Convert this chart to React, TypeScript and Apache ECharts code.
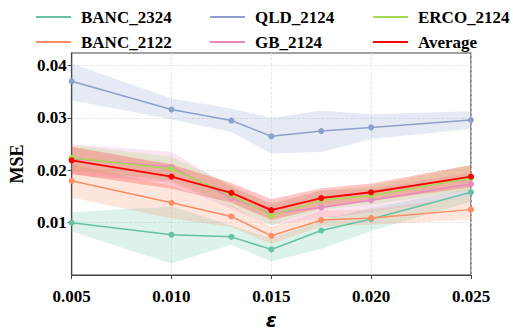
import React, { useEffect, useRef } from "react";
import * as echarts from "echarts";

const eps = [0.005, 0.01, 0.013, 0.015, 0.0175, 0.02, 0.025];
const yTicks = [0.01, 0.02, 0.03, 0.04];

const names = ["BANC_2324", "BANC_2122", "QLD_2124", "GB_2124", "ERCO_2124", "Average"];
const colors = ["#66c2a5", "#fc8d62", "#8da0cb", "#e78ac3", "#a6d854", "#ff0000"];

const banc2324 = [0.01, 0.0077, 0.0073, 0.0049, 0.0085, 0.0107, 0.0158];
const banc2324Lo = [0.0083, 0.0022, 0.0058, 0.0026, 0.005, 0.0084, 0.014];
const banc2324Hi = [0.012, 0.0131, 0.0095, 0.007, 0.0105, 0.0128, 0.0166];

const banc2122 = [0.018, 0.0138, 0.0112, 0.0075, 0.0105, 0.0109, 0.0125];
const banc2122Lo = [0.0148, 0.0108, 0.0092, 0.006, 0.0093, 0.0096, 0.0106];
const banc2122Hi = [0.0212, 0.017, 0.0134, 0.0092, 0.0124, 0.0125, 0.015];

const qld2124 = [0.037, 0.0316, 0.0295, 0.0265, 0.0275, 0.0282, 0.0296];
const qld2124Lo = [0.0334, 0.0297, 0.0273, 0.0232, 0.0235, 0.026, 0.0279];
const qld2124Hi = [0.0404, 0.0337, 0.0318, 0.03, 0.0314, 0.0307, 0.0313];

const gb2124 = [0.0222, 0.0207, 0.0147, 0.0117, 0.0129, 0.0143, 0.0174];
const gb2124Lo = [0.0192, 0.0177, 0.0125, 0.0095, 0.0108, 0.012, 0.015];
const gb2124Hi = [0.025, 0.0235, 0.0168, 0.0137, 0.0162, 0.0165, 0.0196];

const erco2124 = [0.0224, 0.0203, 0.0152, 0.0114, 0.0143, 0.0152, 0.0185];
const erco2124Lo = [0.02, 0.018, 0.0131, 0.0095, 0.0125, 0.0135, 0.0162];
const erco2124Hi = [0.0248, 0.0226, 0.0172, 0.0135, 0.0161, 0.017, 0.021];

const average = [0.0219, 0.0188, 0.0157, 0.0124, 0.0147, 0.0158, 0.0188];
const averageLo = [0.0193, 0.0165, 0.0138, 0.0105, 0.0128, 0.0142, 0.0167];
const averageHi = [0.0245, 0.0211, 0.0176, 0.0145, 0.0166, 0.0175, 0.021];

const means = [banc2324, banc2122, qld2124, gb2124, erco2124, average];
const lows = [banc2324Lo, banc2122Lo, qld2124Lo, gb2124Lo, erco2124Lo, averageLo];
const highs = [banc2324Hi, banc2122Hi, qld2124Hi, gb2124Hi, erco2124Hi, averageHi];

const FONT = "'Liberation Serif', 'Times New Roman', serif";

export default function App() {
  const ref = useRef<HTMLDivElement>(null);
  useEffect(() => {
    if (!ref.current) return;
    const chart = echarts.init(ref.current, null, { renderer: "svg" });

    const bandSeries = names.map((n, k) => ({
      type: "custom",
      silent: true,
      z: 1,
      clip: true,
      data: [[eps[0], lows[k][0]]],
      encode: { x: 0, y: 1 },
      renderItem: (params: any, api: any) => {
        const pts: number[][] = [];
        for (let i = 0; i < eps.length; i++) pts.push(api.coord([eps[i], highs[k][i]]));
        for (let i = eps.length - 1; i >= 0; i--) pts.push(api.coord([eps[i], lows[k][i]]));
        return {
          type: "polygon",
          shape: { points: pts },
          style: { fill: colors[k], opacity: 0.22 },
        };
      },
    }));

    const lineSeries = names.map((n, k) => ({
      type: "line",
      name: n,
      z: 3 + k,
      data: eps.map((x, i) => [x, means[k][i]]),
      symbol: "circle",
      symbolSize: 6,
      color: colors[k],
      lineStyle: { width: k === 5 ? 2 : 1.5, color: colors[k] },
      itemStyle: { color: colors[k] },
    }));

    const legendBase = {
      orient: "vertical",
      top: 2,
      itemWidth: 35,
      itemHeight: 2,
      itemGap: 5,
      icon: "rect",
      textStyle: {
        fontFamily: FONT,
        fontWeight: "bold",
        fontSize: 17,
        color: "#000",
        lineHeight: 20,
        padding: [0, 0, 0, 5],
      },
    };

    chart.setOption({
      animation: false,
      grid: {
        left: 71,
        right: 42,
        top: 53,
        bottom: 42,
        show: true,
        borderColor: "#444",
        borderWidth: 1.2,
        backgroundColor: "transparent",
      },
      legend: [
        { ...legendBase, left: 31, data: [names[0], names[1]] },
        { ...legendBase, left: 205, data: [names[2], names[3]] },
        { ...legendBase, left: 368, data: [names[4], names[5]] },
      ],
      xAxis: {
        type: "value",
        min: 0.005,
        max: 0.025,
        interval: 0.005,
        name: "ε",
        nameLocation: "middle",
        nameGap: 21,
        nameTextStyle: {
          fontFamily: "DejaVu Sans",
          fontStyle: "italic",
          fontWeight: "bold",
          fontSize: 20,
          color: "#000",
        },
        axisLine: { show: true, lineStyle: { color: "#444", width: 1.2 } },
        axisTick: { show: true, length: 4, lineStyle: { color: "#444" } },
        axisLabel: {
          margin: 13,
          fontFamily: FONT,
          fontWeight: "bold",
          fontSize: 17,
          color: "#000",
          formatter: (v: number) => v.toFixed(3),
        },
        splitLine: { show: true, lineStyle: { type: "dashed", color: "#e3e3e3", width: 0.8 } },
      },
      yAxis: {
        type: "value",
        min: 0,
        max: 0.0424,
        interval: 0.01,
        name: "MSE",
        nameLocation: "middle",
        nameGap: 38,
        nameTextStyle: {
          fontFamily: FONT,
          fontWeight: "bold",
          fontSize: 18,
          color: "#000",
        },
        axisLine: { show: true, lineStyle: { color: "#444", width: 1.2 } },
        axisTick: { show: true, length: 4, customValues: yTicks, lineStyle: { color: "#444" } },
        axisLabel: {
          margin: 5,
          customValues: yTicks,
          fontFamily: FONT,
          fontWeight: "bold",
          fontSize: 17,
          color: "#000",
          formatter: (v: number) => v.toFixed(2),
        },
        splitLine: { show: true, lineStyle: { type: "dashed", color: "#e3e3e3", width: 0.8 } },
      },
      series: [...bandSeries, ...lineSeries],
    });
    return () => chart.dispose();
  }, []);
  return <div ref={ref} style={{ width: 513, height: 335, position: "absolute", left: 0, top: 0 }} />;
}
